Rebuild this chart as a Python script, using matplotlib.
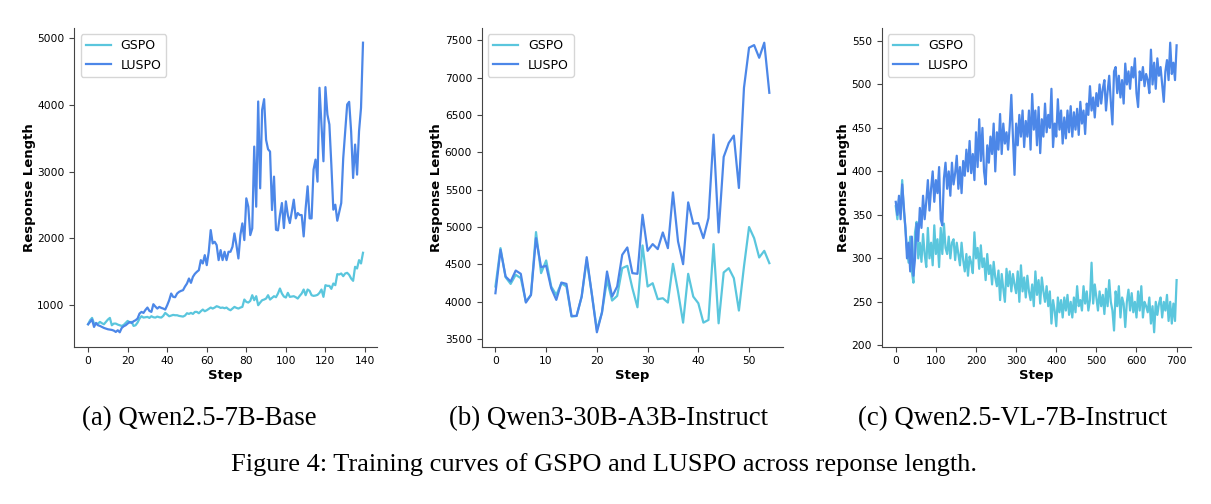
import matplotlib
matplotlib.use("Agg")
import matplotlib.pyplot as plt

# (a) Qwen2.5-7B-Base, steps 0..139
gspo_a = [715, 775, 810, 725, 715, 725, 750, 730, 715, 750,
          785, 810, 700, 725, 725, 710, 700, 690, 705, 735,
          765, 740, 750, 690, 700, 740, 800, 835, 815, 820,
          825, 810, 835, 820, 815, 830, 820, 815, 840, 885,
          860, 835, 845, 855, 850, 850, 840, 835, 830, 845,
          880, 870, 885, 870, 900, 900, 880, 910, 935, 910,
          925, 945, 965, 950, 965, 985, 975, 960, 965, 955,
          965, 940, 925, 950, 975, 960, 950, 965, 975, 1085,
          1050, 1040, 1065, 1150, 1075, 1135, 1000, 1040, 1075, 1085,
          1100, 1150, 1085, 1110, 1135, 1120, 1175, 1250, 1175, 1130,
          1115, 1185, 1125, 1130, 1135, 1120, 1100, 1140, 1175, 1235,
          1150, 1235, 1215, 1150, 1140, 1145, 1155, 1185, 1235, 1125,
          1300, 1290, 1290, 1245, 1325, 1300, 1465, 1460, 1475, 1435,
          1475, 1485, 1455, 1400, 1365, 1575, 1550, 1675, 1625, 1785]
luspo_a = [715, 750, 785, 675, 735, 700, 690, 675, 660, 650,
           640, 635, 630, 620, 600, 625, 595, 660, 685, 700,
           725, 750, 735, 760, 775, 800, 875, 900, 885, 930,
           965, 915, 900, 1015, 980, 950, 975, 960, 950, 935,
           1000, 1075, 1175, 1125, 1120, 1175, 1200, 1215, 1225, 1280,
           1325, 1400, 1335, 1425, 1470, 1500, 1525, 1675, 1625, 1750,
           1600, 1800, 2125, 1925, 1950, 1900, 1675, 1825, 1675, 1800,
           1675, 1800, 1800, 1875, 2075, 1900, 1700, 2050, 2225, 1975,
           2600, 2475, 2050, 2150, 3375, 2475, 4050, 2750, 3925, 4085,
           3475, 3335, 3300, 2425, 2925, 2130, 2120, 2350, 2530, 2155,
           2555, 2350, 2230, 2400, 2580, 2300, 2380, 2350, 2350, 2030,
           2450, 2780, 2300, 2300, 3030, 3180, 2850, 4255, 3700, 3155,
           4265, 3855, 3705, 3100, 2430, 2505, 2265, 2400, 2530, 3200,
           3600, 4005, 4045, 3600, 2905, 3405, 2955, 3605, 3955, 4930]

# (b) Qwen3-30B-A3B-Instruct, steps 0..54
gspo_b = [4203, 4717, 4328, 4238, 4360, 4315, 4000, 4090, 4932, 4382,
          4552, 4203, 4090, 4247, 4203, 3800, 3809, 4068, 4561, 4104,
          3621, 3854, 4292, 4015, 4077, 4449, 4480, 4180, 3925, 4753,
          4203, 4247, 4033, 4046, 3988, 4507, 4136, 3719, 4373, 4068,
          3979, 3719, 3755, 4771, 3710, 4391, 4449, 4315, 3881, 4471,
          5000, 4851, 4592, 4681, 4516]
luspo_b = [4113, 4695, 4337, 4270, 4417, 4373, 3988, 4090, 4851, 4462,
           4480, 4180, 4024, 4256, 4238, 3809, 3809, 4068, 4596, 4104,
           3590, 3854, 4404, 4068, 4203, 4628, 4726, 4382, 4373, 5164,
           4681, 4771, 4704, 4927, 4717, 5464, 4807, 4502, 5330, 5044,
           5053, 4851, 5120, 6238, 4927, 5939, 6126, 6225, 5523, 6865,
           7402, 7437, 7267, 7469, 6798]

# (c) Qwen2.5-VL-7B-Instruct, every 4th step 0..700
step_c = list(range(0, 701, 4))
gspo_c = [360, 345, 368, 352, 390, 355,
          335, 310, 295, 325, 285, 272, 330,
          342, 300, 318, 296, 328, 305, 290,
          335, 300, 318, 292, 338, 305,
          322, 290, 335, 305, 340, 312,
          305, 325, 300, 318, 322, 298, 318,
          305, 292, 318, 298, 285, 305, 280,
          302, 295, 283, 330, 300, 312, 288,
          315, 290, 300, 275, 305, 282, 292,
          270, 296, 278, 268, 286, 252, 282,
          265, 250, 288, 268, 285, 262, 282,
          270, 260, 285, 250, 292, 262, 278,
          255, 280, 262, 252, 270, 245, 285,
          258, 275, 248, 278, 262, 250, 268,
          245, 262, 225, 252, 240, 222, 255,
          238, 252, 232, 255, 240, 258, 235,
          250, 232, 255, 238, 268, 245, 252,
          240, 268, 248, 262, 240, 252, 295,
          248, 270, 255, 240, 262, 245, 258,
          236, 265, 245, 275, 250, 240, 217,
          262, 245, 268, 232, 255, 248, 221,
          250, 264, 240, 260, 238, 250, 232,
          262, 240, 268, 232, 250, 245, 238,
          255, 225, 245, 215, 250, 235, 248,
          255, 232, 250, 240, 258, 228, 250,
          225, 248, 228, 275]
luspo_c = [365, 350, 372, 345, 385, 360,
           335, 300, 318, 285, 325, 280, 300,
           340, 320, 358, 335, 372, 345, 365,
           390, 355, 380, 400, 365, 390,
           375, 405, 345, 338, 392, 410,
           380, 400, 372, 410, 385, 398, 418,
           380, 405, 375, 412, 395, 425, 400,
           435, 398, 420, 390, 445, 405, 460,
           412, 450, 400, 385, 430, 410, 440,
           420, 455, 400, 445, 425, 466, 420,
           455, 432, 445, 425, 452, 488, 440,
           396, 455, 430, 465, 440, 470, 428,
           458, 440, 470, 425, 489, 448, 470,
           430, 474, 421, 460, 440, 478, 445,
           465, 450, 495, 428, 455, 440, 483,
           448, 470, 432, 462, 438, 470, 445,
           475, 440, 468, 448, 472, 442, 480,
           455, 470, 443, 478, 465, 498, 470,
           485, 462, 490, 475, 500, 478, 495,
           505, 470, 492, 510, 480, 454, 515,
           520, 490, 510, 485, 505, 478, 524,
           500, 515, 495, 520, 508, 530, 490,
           474, 515, 505, 520, 498, 512, 505,
           490, 540, 500, 525, 495, 530, 510,
           520, 500, 480, 515, 528, 505, 548,
           512, 525, 505, 545]

yticks_a = [1000, 2000, 3000, 4000, 5000]
yticks_b = [3500, 4000, 4500, 5000, 5500, 6000, 6500, 7000, 7500]
yticks_c = [200, 250, 300, 350, 400, 450, 500, 550]
xticks_a = [0, 20, 40, 60, 80, 100, 120, 140]
xticks_b = [0, 10, 20, 30, 40, 50]
xticks_c = [0, 100, 200, 300, 400, 500, 600, 700]

captions = ["(a) Qwen2.5-7B-Base", "(b) Qwen3-30B-A3B-Instruct",
            "(c) Qwen2.5-VL-7B-Instruct"]
caption_x = [199.5, 609, 1013]
fig_caption = "Figure 4: Training curves of GSPO and LUSPO across reponse length."

c_gspo = '#5AC6DD'
c_luspo = '#4C87E8'

W, H = 1211, 504
fig = plt.figure(figsize=(W / 100, H / 100), dpi=100)
ax1 = fig.add_axes([0.0614, 0.312, 0.2497, 0.632])
ax2 = fig.add_axes([0.3978, 0.312, 0.2488, 0.632])
ax3 = fig.add_axes([0.7281, 0.312, 0.2551, 0.632])

panels = [
    (ax1, list(range(len(gspo_a))), gspo_a, luspo_a, xticks_a, yticks_a),
    (ax2, list(range(len(gspo_b))), gspo_b, luspo_b, xticks_b, yticks_b),
    (ax3, step_c, gspo_c, luspo_c, xticks_c, yticks_c),
]

for ax, x, g, l, xt, yt in panels:
    ax.plot(x, g, color=c_gspo, lw=1.6, label='GSPO')
    ax.plot(x, l, color=c_luspo, lw=1.6, label='LUSPO')
    ax.set_xticks(xt)
    ax.set_yticks(yt)
    ax.tick_params(labelsize=7.7, color='#444444', length=3.5)
    for s in ['top', 'right']:
        ax.spines[s].set_visible(False)
    for s in ['left', 'bottom']:
        ax.spines[s].set_color('#444444')
    ax.set_xlabel('Step', fontsize=9.5, fontweight='bold', labelpad=2)
    ax.set_ylabel('Response Length', fontsize=9.5, fontweight='bold', labelpad=1)
    ax.legend(loc='upper left', fontsize=9)

for cx, cap in zip(caption_x, captions):
    fig.text(cx / W, 1 - 419 / H, cap, ha='center', va='center',
             fontsize=19.3, family='Liberation Serif')

fig.text(604 / W, 1 - 465 / H, fig_caption, ha='center', va='center',
         fontsize=19, family='Liberation Serif')

fig.savefig('out.png', dpi=100)
